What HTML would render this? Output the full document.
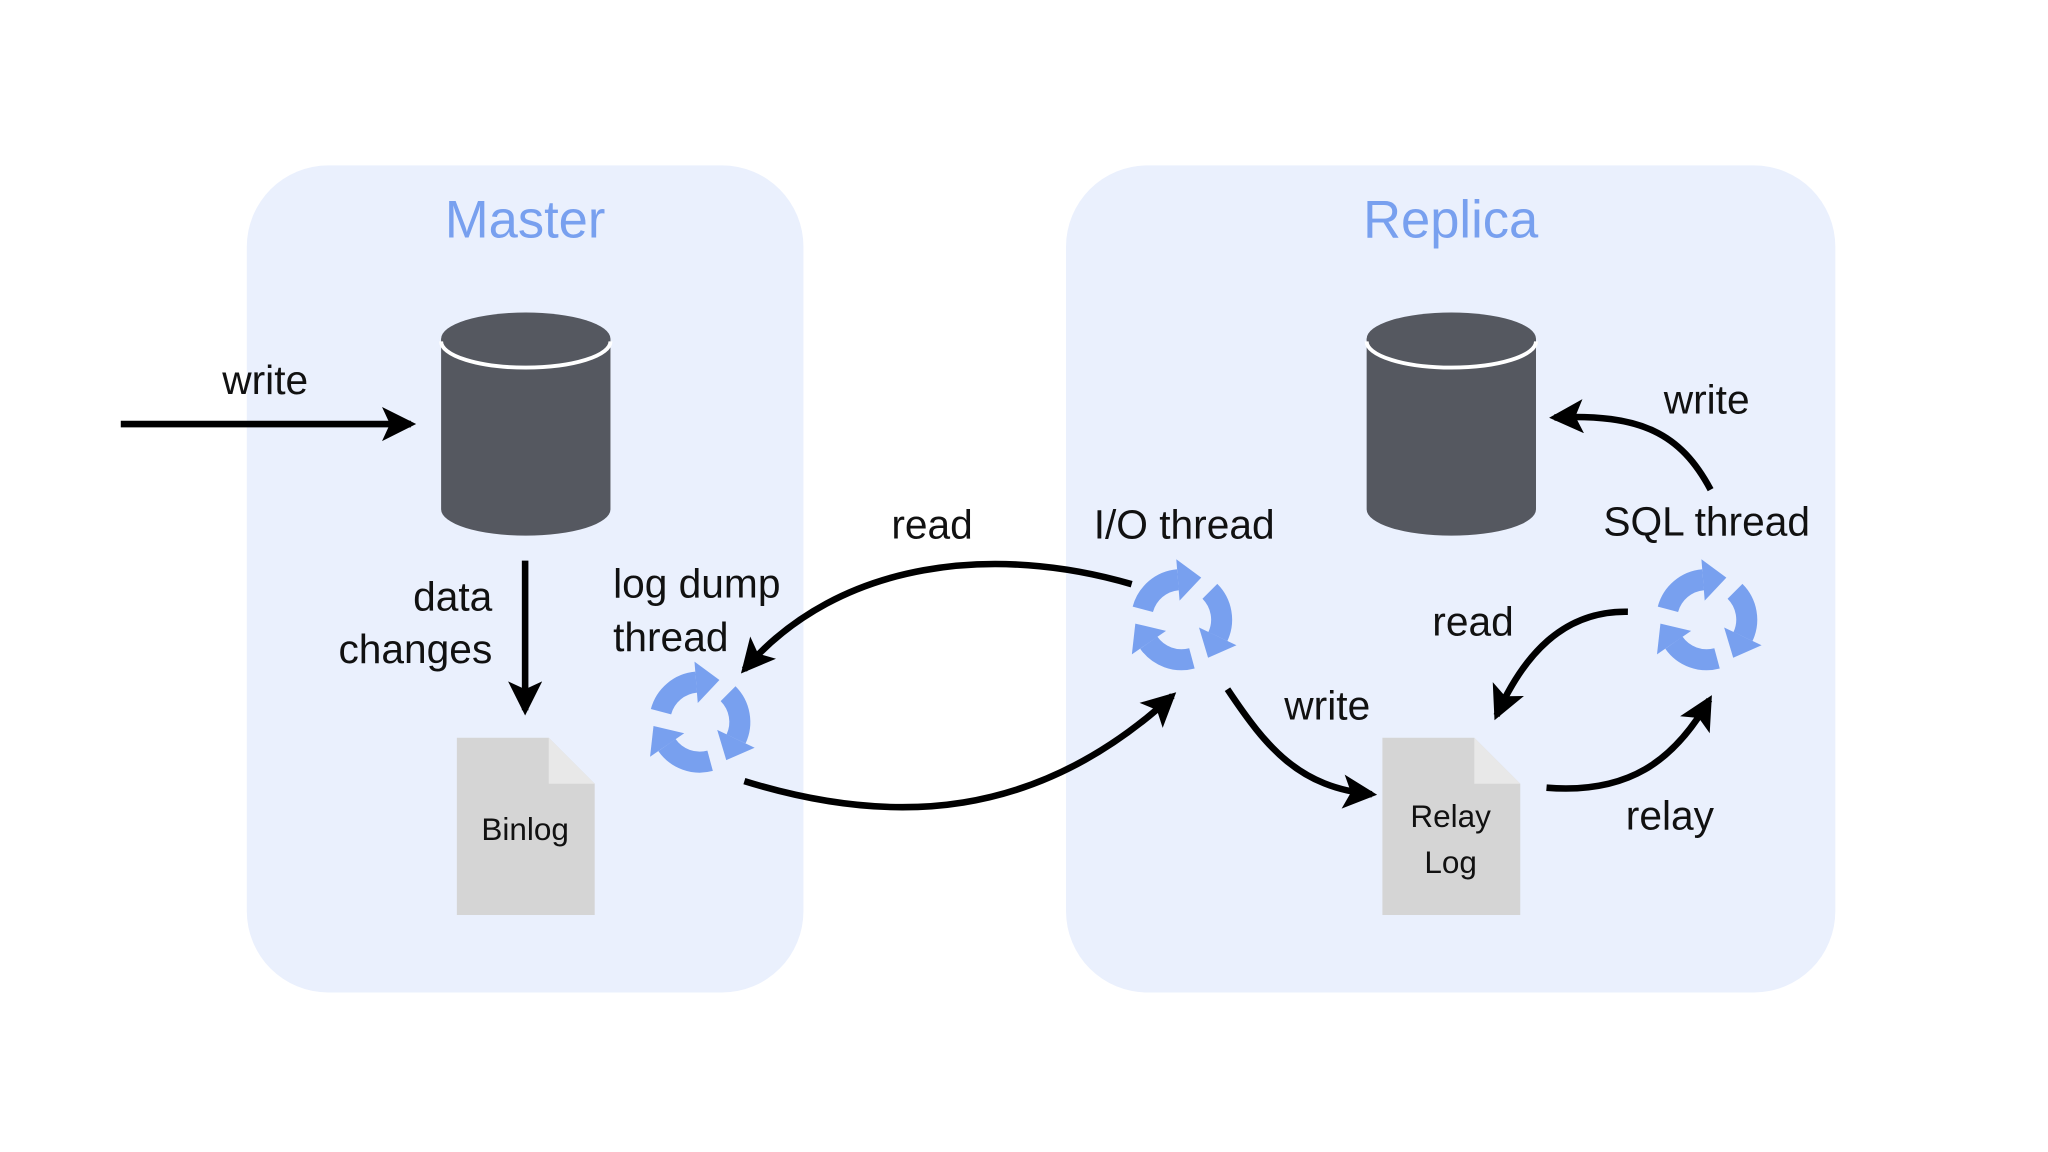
<!DOCTYPE html>
<html><head><meta charset="utf-8"><style>
html,body{margin:0;padding:0;background:#fff;width:2048px;height:1152px;overflow:hidden}
svg{display:block}
text{font-family:"Liberation Sans","DejaVu Sans",sans-serif;fill:#111}
</style></head><body>
<svg width="2048" height="1152" viewBox="0 0 1560 877.5" xmlns="http://www.w3.org/2000/svg">
<defs>
<marker id="ah" markerUnits="userSpaceOnUse" markerWidth="30" markerHeight="30" refX="22" refY="13" orient="auto">
<path d="M0,0 L26,13 L0,26 L6,13 Z" fill="#000"/>
</marker>
<g id="ic">
 <g id="arcA">
  <path d="M-29.5,-7.9 A30.5,30.5 0 0 1 -2.7,-30.4" fill="none" stroke="#78a0ef" stroke-width="16"/>
  <path d="M15,-32 L-4,-46 L-1.5,-14.5 Z" fill="#78a0ef"/>
 </g>
 <use href="#arcA" transform="rotate(120)"/>
 <use href="#arcA" transform="rotate(240)"/>
</g>
</defs>
<rect width="1560" height="877.5" fill="#fff"/>
<rect x="188" y="126" width="424" height="630" rx="62" fill="#eaf0fd"/>
<rect x="812" y="126" width="586" height="630" rx="62" fill="#eaf0fd"/>
<text x="400" y="181" font-size="40" text-anchor="middle" style="fill:#78a0ef">Master</text>
<text x="1105" y="181" font-size="40" text-anchor="middle" style="fill:#78a0ef">Replica</text>

<g>
 <path d="M336,258 L336,388 A64.5,20 0 0 0 465,388 L465,258 Z" fill="#555860"/>
 <ellipse cx="400.5" cy="258" rx="64.5" ry="20" fill="#555860"/>
 <path d="M336,260 A64.5,20 0 0 0 465,260" fill="none" stroke="#fff" stroke-width="3"/>
</g>
<g>
 <path d="M1041,258 L1041,388 A64.5,20 0 0 0 1170,388 L1170,258 Z" fill="#555860"/>
 <ellipse cx="1105.5" cy="258" rx="64.5" ry="20" fill="#555860"/>
 <path d="M1041,260 A64.5,20 0 0 0 1170,260" fill="none" stroke="#fff" stroke-width="3"/>
</g>

<path d="M348,562 L418,562 L453,597 L453,697 L348,697 Z" fill="#d5d5d5"/>
<path d="M418,562 L453,597 L418,597 Z" fill="#e8e8e8"/>
<text x="400" y="640" font-size="24" text-anchor="middle">Binlog</text>
<path d="M1053,562 L1123,562 L1158,597 L1158,697 L1053,697 Z" fill="#d5d5d5"/>
<path d="M1123,562 L1158,597 L1123,597 Z" fill="#e8e8e8"/>
<text x="1105" y="630" font-size="24" text-anchor="middle">Relay</text>
<text x="1105" y="665" font-size="24" text-anchor="middle">Log</text>

<use href="#ic" transform="translate(533,550)"/>
<use href="#ic" transform="translate(900,472)"/>
<use href="#ic" transform="translate(1300,472)"/>

<g fill="none" stroke="#000" stroke-width="5" marker-end="url(#ah)">
 <path d="M92,323 L313,323"/>
 <path d="M400,427 L400,541"/>
 <path d="M862,445 C760,415 640,425 567,510"/>
 <path d="M567,595 C680,630 790,625 893,530"/>
 <path d="M935,525 C965,570 990,600 1045,605"/>
 <path d="M1240,466 C1190,465 1160,500 1140,545"/>
 <path d="M1178,600 C1240,605 1275,580 1302,533"/>
 <path d="M1303,373 C1280,330 1250,315 1184,318"/>
</g>

<g font-size="31">
<text x="202" y="300" text-anchor="middle">write</text>
<text x="375" y="465" text-anchor="end">data</text>
<text x="375" y="505" text-anchor="end">changes</text>
<text x="467" y="455">log dump</text>
<text x="467" y="496">thread</text>
<text x="710" y="410" text-anchor="middle">read</text>
<text x="902" y="410" text-anchor="middle">I/O thread</text>
<text x="1300" y="408" text-anchor="middle">SQL thread</text>
<text x="1300" y="315" text-anchor="middle">write</text>
<text x="1122" y="484" text-anchor="middle">read</text>
<text x="1011" y="548" text-anchor="middle">write</text>
<text x="1272" y="632" text-anchor="middle">relay</text>
</g>
</svg>
</body></html>
